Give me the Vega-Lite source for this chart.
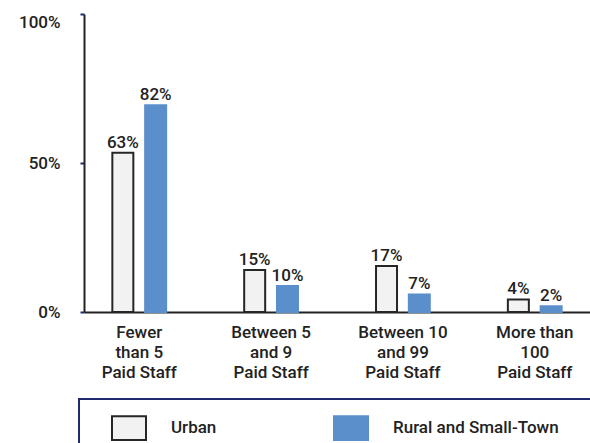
{
  "$schema": "https://vega.github.io/schema/vega-lite/v6.json",
  "autosize": {"type": "none"},
  "padding": {"left": 84, "top": 14, "right": 0, "bottom": 131},
  "width": 506,
  "height": 298,
  "background": "white",
  "config": {
    "view": {"stroke": null},
    "font": "Roboto",
    "text": {"font": "Roboto"}
  },
  "data": {
    "values": [
      {"size": "Fewer|than 5|Paid Staff", "area": "Urban", "bar": 53.4, "label": "63%"},
      {"size": "Fewer|than 5|Paid Staff", "area": "Rural and Small-Town", "bar": 69.4, "label": "82%"},
      {"size": "Between 5|and 9|Paid Staff", "area": "Urban", "bar": 14.1, "label": "15%"},
      {"size": "Between 5|and 9|Paid Staff", "area": "Rural and Small-Town", "bar": 8.7, "label": "10%"},
      {"size": "Between 10|and 99|Paid Staff", "area": "Urban", "bar": 15.4, "label": "17%"},
      {"size": "Between 10|and 99|Paid Staff", "area": "Rural and Small-Town", "bar": 5.9, "label": "7%"},
      {"size": "More than|100|Paid Staff", "area": "Urban", "bar": 4.2, "label": "4%"},
      {"size": "More than|100|Paid Staff", "area": "Rural and Small-Town", "bar": 1.9, "label": "2%"}
    ]
  },
  "encoding": {
    "x": {
      "field": "size", "type": "nominal", "sort": null,
      "scale": {"paddingInner": 0.592, "paddingOuter": 0.215},
      "axis": {
        "title": null, "labelAngle": 0, "ticks": false,
        "domainColor": "#222222", "domainWidth": 2,
        "labelExpr": "split(datum.value, '|')",
        "labelFont": "Roboto", "labelFontWeight": 500, "labelFontSize": 17, "labelColor": "#222222",
        "labelLineHeight": 20, "labelPadding": 12, "labelBaseline": "top"
      }
    },
    "xOffset": {
      "field": "area", "type": "nominal", "sort": ["Urban", "Rural and Small-Town"],
      "scale": {"paddingInner": 0.36}
    },
    "y": {
      "field": "bar", "type": "quantitative",
      "scale": {"domain": [0, 100], "nice": false},
      "axis": {
        "title": null, "values": [0, 50, 100], "grid": false,
        "labelExpr": "datum.value + '%'",
        "labelBaseline": {"condition": {"test": "datum.value == 100", "value": "top"}, "value": "middle"},
        "domainColor": "#222222", "domainWidth": 2,
        "tickColor": "#1f2a6e", "tickWidth": 2, "tickSize": 4,
        "labelFont": "Roboto", "labelFontWeight": 500, "labelFontSize": 17, "labelColor": "#222222",
        "labelPadding": 20
      }
    }
  },
  "layer": [
    {
      "mark": {"type": "bar", "strokeWidth": 2},
      "encoding": {
        "color": {
          "field": "area", "type": "nominal", "sort": ["Urban", "Rural and Small-Town"],
          "scale": {"domain": ["Urban", "Rural and Small-Town"], "range": ["#f2f2f2", "#5b8fcb"]},
          "legend": {
            "title": " ", "titleOrient": "right", "titlePadding": 30,
            "orient": "none", "legendX": -5, "legendY": 385,
            "direction": "horizontal", "columns": 2, "columnPadding": 95,
            "padding": 11, "strokeColor": "#1f2a6e",
            "symbolType": "M-1,-0.7H1V0.7H-1Z", "symbolSize": 1156,
            "symbolStrokeWidth": 2, "symbolOffset": 21, "labelOffset": 24,
            "labelFont": "Roboto", "labelFontWeight": 500, "labelFontSize": 17, "labelColor": "#222222",
            "labelLimit": 400,
            "encode": {"legend": {"update": {"strokeWidth": {"value": 2}}}}
          }
        },
        "stroke": {
          "field": "area", "type": "nominal", "sort": ["Urban", "Rural and Small-Town"],
          "scale": {"domain": ["Urban", "Rural and Small-Town"], "range": ["#262626", "#5b8fcb"]}
        }
      }
    },
    {
      "mark": {"type": "text", "dy": -5, "baseline": "alphabetic", "fontSize": 17, "fontWeight": 500, "font": "Roboto", "color": "#222222"},
      "encoding": {"text": {"field": "label"}}
    }
  ]
}
